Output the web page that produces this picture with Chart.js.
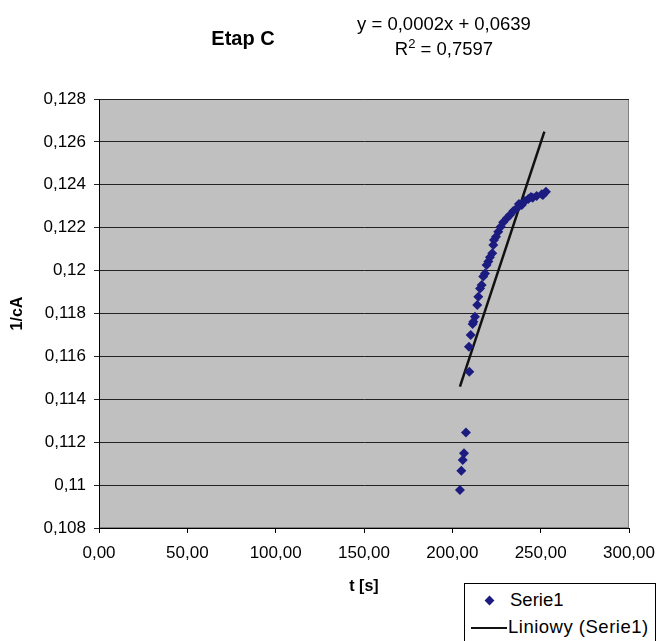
<!DOCTYPE html>
<html>
<head>
<meta charset="utf-8">
<script src="https://cdn.jsdelivr.net/npm/chart.js@4/dist/chart.umd.min.js"></script>
<style>
  html, body { margin: 0; padding: 0; background: #fff; }
  body { width: 659px; height: 641px; overflow: hidden; position: relative; font-family: "Liberation Sans", Arial, sans-serif; }
  #c { position: absolute; left: 0; top: 0; }
  .txt { position: absolute; white-space: nowrap; color: #000; }
  #title { font-weight: bold; font-size: 20px; left: 243px; top: 38px; transform: translate(-50%, -50%); }
  #eq { font-size: 18.5px; left: 444px; top: 36px; transform: translate(-50%, -50%); text-align: center; line-height: 25px; }
  #eq sup { font-size: 13px; vertical-align: 7px; line-height: 0; }
  #legend { position: absolute; left: 464px; top: 583px; width: 190px; height: 80px; border: 1px solid #000; background: #fff; font-size: 18.5px; }
  .lrow { position: absolute; left: 0; white-space: nowrap; }
  .dia { position: absolute; width: 7px; height: 7px; background: #1c1c80; transform: rotate(45deg); }
  .ln { position: absolute; height: 2px; background: #111; }
</style>
</head>
<body>
<canvas id="c" width="659" height="641"></canvas>
<div id="title" class="txt">Etap C</div>
<div id="eq" class="txt">y = 0,0002x + 0,0639<br>R<sup>2</sup> = 0,7597</div>
<div id="legend">
  <div class="dia" style="left:21px; top:13px;"></div>
  <div class="lrow" style="left:45px; top:5px;">Serie1</div>
  <div class="ln" style="left:6px; top:43px; width:36px;"></div>
  <div class="lrow" style="left:43px; top:32px; letter-spacing:0.5px;">Liniowy (Serie1)</div>
</div>
<script>
// ---- data ----
const chartTitle = "Etap C";
const xAxisTitle = "t [s]";
const yAxisTitle = "1/cA";
const seriesName = "Serie1";
const trendName = "Liniowy (Serie1)";

const tValues = [204.3, 205.1, 205.9, 206.6, 207.7, 209.6, 209.4, 210.4, 211.5, 211.9,
                 212.8, 214.1, 214.7, 215.7, 216.6, 217.5, 218.5, 219.4, 220.4, 221.3,
                 222.6, 223.2, 223.6, 224.7, 226.0, 227.4, 228.8, 230.8, 232.6, 234.5,
                 236.4, 237.7, 239.3, 241.1, 243.0, 244.5, 245.5, 247.7, 250.6, 251.3, 253.0];
const invCA   = [0.10977, 0.11067, 0.11117, 0.11148, 0.11245, 0.11529, 0.11645, 0.11700, 0.11751, 0.11762,
                 0.11785, 0.11840, 0.11878, 0.11917, 0.11933, 0.11972, 0.11987, 0.12026, 0.12042, 0.12062,
                 0.12081, 0.12119, 0.12143, 0.12158, 0.12181, 0.12205, 0.12225, 0.12244, 0.12259, 0.12278,
                 0.12290, 0.12311, 0.12306, 0.12324, 0.12334, 0.12343, 0.12340, 0.12348, 0.12356, 0.12352, 0.12368];

const trendT = [204.3, 252.1];
const trendY = [0.11459, 0.12648];

const xMin = 0, xMax = 300, xStep = 50;
const yMin = 0.108, yMax = 0.128, yStep = 0.002;

// ---- chart ----
const pts = tValues.map((t, i) => ({ x: t, y: invCA[i] }));
const trendPts = trendT.map((t, i) => ({ x: t, y: trendY[i] }));

const plotBg = {
  id: 'plotBg',
  beforeDraw(chart) {
    const { ctx, chartArea: a } = chart;
    ctx.save();
    ctx.fillStyle = '#c0c0c0';
    ctx.fillRect(a.left, a.top, a.right - a.left, a.bottom - a.top);
    ctx.strokeStyle = '#808080';
    ctx.lineWidth = 1;
    ctx.strokeRect(a.left + 0.5, a.top + 0.5, a.right - a.left - 1, a.bottom - a.top - 1);
    ctx.restore();
  }
};

const fmtY = v => {
  let s = (Math.round(v * 1000) / 1000).toString();
  return s.replace('.', ',');
};
const fmtX = v => v.toFixed(2).replace('.', ',');

new Chart(document.getElementById('c'), {
  type: 'scatter',
  data: {
    datasets: [
      {
        label: seriesName,
        data: pts,
        pointStyle: 'rectRot',
        pointRadius: 5,
        pointHoverRadius: 5,
        backgroundColor: '#1c1c80',
        borderColor: '#1c1c80',
        borderWidth: 0
      },
      {
        label: trendName,
        data: trendPts,
        showLine: true,
        pointRadius: 0,
        borderColor: '#111111',
        borderWidth: 2.5,
        fill: false
      }
    ]
  },
  options: {
    responsive: false,
    animation: false,
    devicePixelRatio: 1,
    layout: { padding: { top: 99, right: 30, left: 0, bottom: 0 } },
    plugins: {
      legend: { display: false },
      title: { display: false },
      tooltip: { enabled: false }
    },
    scales: {
      x: {
        type: 'linear',
        min: xMin, max: xMax,
        afterFit: s => { s.height = 113; s.paddingRight = 0; s.paddingLeft = 0; },
        ticks: {
          stepSize: xStep,
          color: '#000',
          padding: 10,
          font: { family: 'Liberation Sans', size: 17 },
          callback: v => fmtX(v),
          maxRotation: 0
        },
        grid: { drawOnChartArea: false, drawTicks: true, tickLength: 5, color: '#000' },
        border: { color: '#000', width: 1 },
        title: {
          display: true, text: xAxisTitle, color: '#000',
          font: { family: 'Liberation Sans', size: 16, weight: 'bold' },
          padding: { top: 0, bottom: 45 }
        }
      },
      y: {
        type: 'linear',
        min: yMin, max: yMax,
        afterFit: s => { s.width = 99; s.paddingTop = 0; s.paddingBottom = 0; },
        ticks: {
          stepSize: yStep,
          color: '#000',
          padding: 8,
          font: { family: 'Liberation Sans', size: 17 },
          callback: v => fmtY(v)
        },
        grid: { drawOnChartArea: true, drawTicks: true, tickLength: 5, color: '#222', lineWidth: 1 },
        border: { color: '#000', width: 1 },
        title: {
          display: true, text: yAxisTitle, color: '#000',
          font: { family: 'Liberation Sans', size: 16, weight: 'bold' },
          padding: { top: 8, bottom: 0 }
        }
      }
    }
  },
  plugins: [plotBg]
});
</script>
</body>
</html>
